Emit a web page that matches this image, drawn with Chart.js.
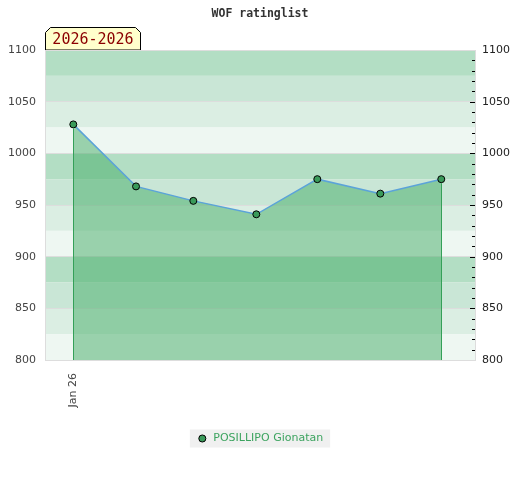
<!DOCTYPE html>
<html>
<head>
<meta charset="utf-8">
<script src="https://cdn.jsdelivr.net/npm/chart.js@4/dist/chart.umd.min.js"></script>
<style>
  html, body { margin: 0; padding: 0; background: #fff; }
  #wrap { width: 520px; height: 480px; position: relative; }
</style>
</head>
<body>
<div id="wrap"><canvas id="rating-chart" width="520" height="480"></canvas></div>
<script>
// WOF ratinglist — one player, weekly ratings
const playerName = "POSILLIPO Gionatan";
const periodLabel = "2026-2026";
// days after Jan 26 for each rating
const days = [0, 7.16, 13.7, 20.89, 27.85, 35.04, 42];
const ratings = [1028, 968, 954, 941, 975, 961, 975];
const xTickValues = [0];
const xTickLabels = ["Jan 26"];
const yMin = 800, yMax = 1100;
const dayMin = -3.23, dayMax = 45.85;

const bandColors = ["#b3dec4", "#c9e6d6", "#dbeee3", "#eef7f2"];

const bandsPlugin = {
  id: "bands",
  beforeDraw(chart) {
    const { ctx, chartArea: a, scales: { y } } = chart;
    ctx.save();
    let k = 0;
    for (let v = yMax; v > yMin; v -= 25, k++) {
      const top = y.getPixelForValue(v), bottom = y.getPixelForValue(v - 25);
      ctx.fillStyle = bandColors[k % 4];
      ctx.fillRect(a.left, top, a.right - a.left, bottom - top);
    }
    // legend background
    const hb = chart.legend && chart.legend.legendHitBoxes && chart.legend.legendHitBoxes[0];
    if (hb) {
      ctx.fillStyle = "#f0f0f0";
      const cy = hb.top + hb.height / 2;
      ctx.fillRect(hb.left - 7, cy - 9, hb.width + 14, 18);
    }
    // period tag
    ctx.beginPath();
    const l = a.left + 0.5, r = a.left + 95.5, t = a.top - 22.5, b = a.top, c = 5;
    ctx.moveTo(l, b);
    ctx.lineTo(l, t + c);
    ctx.lineTo(l + c, t);
    ctx.lineTo(r - c, t);
    ctx.lineTo(r, t + c);
    ctx.lineTo(r, b);
    ctx.closePath();
    ctx.fillStyle = "#ffffcc";
    ctx.fill();
    ctx.strokeStyle = "#000";
    ctx.lineWidth = 1;
    ctx.stroke();
    ctx.fillStyle = "#8b0000";
    ctx.font = "15px 'DejaVu Sans Mono'";
    ctx.textAlign = "center";
    ctx.textBaseline = "middle";
    ctx.fillText(periodLabel, (l + r) / 2, (t + b) / 2 + 1);
    ctx.restore();
  },
  afterDatasetsDraw(chart) {
    const { ctx, chartArea: a } = chart;
    const pts = chart.getDatasetMeta(0).data;
    ctx.save();
    ctx.strokeStyle = "#34a058";
    ctx.lineWidth = 1;
    [pts[0], pts[pts.length - 1]].forEach((p) => {
      const x = Math.round(p.x) + 0.5;
      ctx.beginPath();
      ctx.moveTo(x, p.y + 4);
      ctx.lineTo(x, a.bottom);
      ctx.stroke();
    });
    ctx.restore();
  },
  afterDraw(chart) {
    const { ctx, scales: { y2 } } = chart;
    ctx.save();
    ctx.strokeStyle = "#000";
    ctx.lineWidth = 1;
    y2.ticks.forEach((t) => {
      if (t.value === yMin || t.value === yMax) return;
      const py = Math.round(y2.getPixelForValue(t.value)) + 0.5;
      const len = t.value % 50 === 0 ? 5 : 3;
      ctx.beginPath();
      ctx.moveTo(y2.left - len, py);
      ctx.lineTo(y2.left, py);
      ctx.stroke();
    });
    ctx.restore();
  },
};

new Chart(document.getElementById("rating-chart").getContext("2d"), {
  type: "line",
  data: {
    datasets: [
      {
        label: playerName,
        data: days.map((d, i) => ({ x: d, y: ratings[i] })),
        borderColor: "#5ba3d9",
        borderWidth: 1.5,
        backgroundColor: "rgba(68,172,102,0.5)",
        fill: "start",
        tension: 0,
        pointRadius: 3.5,
        pointBackgroundColor: "#3a9a5a",
        pointBorderColor: "#000",
        pointBorderWidth: 1,
        pointStyle: "circle",
      },
    ],
  },
  options: {
    responsive: false,
    animation: false,
    devicePixelRatio: 1,
    layout: { padding: { left: 0, right: 0, top: 0, bottom: 26 } },
    font: { family: "'DejaVu Sans'" },
    plugins: {
      title: {
        display: true,
        text: "WOF ratinglist",
        color: "#333",
        font: { family: "'DejaVu Sans Mono'", size: 11.5, weight: "bold" },
        padding: { top: 7, bottom: 29.2 },
      },
      legend: {
        position: "bottom",
        labels: {
          usePointStyle: true,
          boxWidth: 11,
          boxHeight: 5,
          color: "#3ca35f",
          font: { family: "'DejaVu Sans'", size: 11 },
          padding: 10,
        },
      },
      tooltip: { enabled: false },
    },
    scales: {
      x: {
        type: "linear",
        min: dayMin,
        max: dayMax,
        afterBuildTicks: (s) => { s.ticks = xTickValues.map((v) => ({ value: v })); },
        afterFit: (s) => { s.height = 63; },
        ticks: {
          callback: (v) => xTickLabels[xTickValues.indexOf(v)] ?? "",
          maxRotation: 90,
          minRotation: 90,
          padding: 13,
          color: "#444",
          font: { family: "'DejaVu Sans'", size: 11 },
        },
        grid: { display: false, drawTicks: false },
        border: { display: true, color: "#dddddd" },
      },
      y: {
        position: "left",
        min: yMin,
        max: yMax,
        afterFit: (s) => { s.width = 45; },
        ticks: {
          stepSize: 50,
          padding: 9,
          color: "#444",
          font: { family: "'DejaVu Sans'", size: 11 },
          callback: (v) => String(v),
        },
        grid: { color: "#dddddd", drawTicks: false },
        border: { display: true, color: "#dddddd" },
      },
      y2: {
        position: "right",
        min: yMin,
        max: yMax,
        afterFit: (s) => { s.width = 45; },
        ticks: {
          stepSize: 10,
          autoSkip: false,
          padding: 7,
          color: "#222",
          font: { family: "'DejaVu Sans'", size: 11 },
          callback: (v) => (v % 50 === 0 ? String(v) : ""),
        },
        grid: { drawOnChartArea: false, drawTicks: false },
        border: { display: true, color: "#dddddd" },
      },
    },
  },
  plugins: [bandsPlugin],
});
</script>
</body>
</html>
